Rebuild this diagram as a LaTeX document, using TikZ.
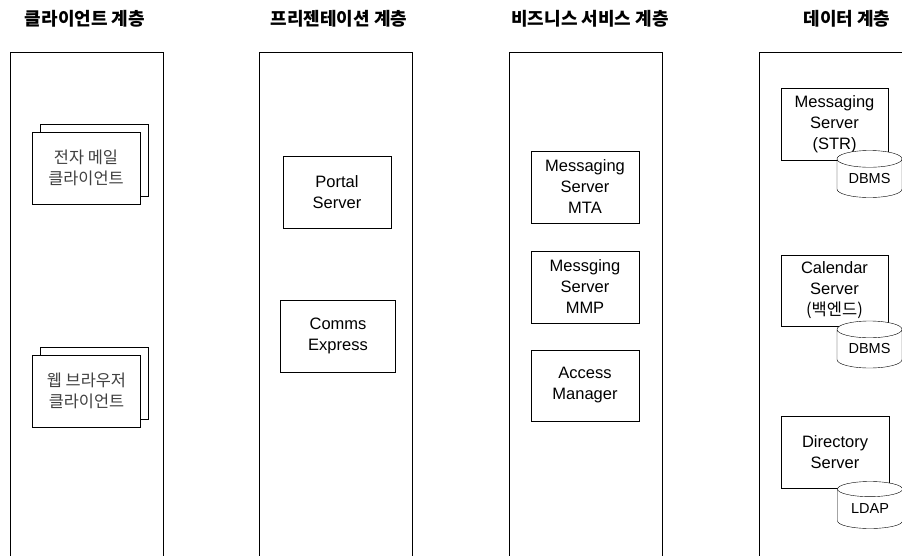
\documentclass[tikz,border=0pt]{standalone}
\usepackage{fontspec}
\setmainfont{Liberation Sans}
\newfontfamily\kr{Noto Sans CJK KR}
\usetikzlibrary{positioning,shapes.geometric,shadows}

\begin{document}
\begin{tikzpicture}[x=1pt,y=-1pt,
    layer/.style={draw, thick, minimum width=153pt, minimum height=540pt, anchor=north, inner sep=0pt},
    title/.style={font=\kr\bfseries\fontsize{18}{20}\selectfont},
    comp/.style={draw, fill=white, minimum width=108pt, minimum height=72pt, align=center, inner sep=0pt,
        font=\fontsize{16.5}{21}\selectfont},
    client/.style={comp, copy shadow={shadow xshift=8pt, shadow yshift=8pt, draw, fill=white},
        font=\kr\fontsize{16.4}{21}\selectfont, text=black!75},
    store/.style={cylinder, shape border rotate=90, draw, fill=white, aspect=0.4,
        minimum width=65pt, minimum height=47pt, inner sep=0pt, anchor=shape center,
        font=\fontsize{14.5}{17}\selectfont}]
    \useasboundingbox (0,0) rectangle (902,555);
    \clip (0,0) rectangle (902,555);

    % Draw the four layers, open at the bottom
    \node[layer] (client) at (86.5,52) {};
    \node[layer] (present) at (335.5,52) {};
    \node[layer] (business) at (585.5,52) {};
    \node[layer] (data) at (835.5,52) {};

    % Layer titles
    \node[title] (tclient) at (85,19) {클라이언트 계층};
    \node[title] (tpresent) at (339,19) {프리젠테이션 계층};
    \node[title] (tbusiness) at (590,19) {비즈니스 서비스 계층};
    \node[title] (tdata) at (847,19) {데이터 계층};

    % Client layer
    \node[client] (mail) at (86,168) {전자 메일\\클라이언트};
    \node[client] (web) at (86.5,391) {웹 브라우저\\클라이언트};

    % Presentation layer
    \node[comp] (portal) at (337,192) {Portal\\Server};
    \node[comp, minimum width=115pt] (comms) at (338,336) {Comms\\Express};

    % Business service layer
    \node[comp] (mta) at (585,187) {Messaging\\Server\\MTA};
    \node[comp] (mmp) at (585,287) {Messging\\Server\\MMP};
    \node[comp, minimum height=71pt] (am) at (585,385.5) {Access\\Manager};

    % Data layer with stores in front of the servers
    \node[comp, minimum width=107pt] (str) at (834.5,124) {Messaging\\Server\\(STR)};
    \node[store] (db1) at (869.5,174) {DBMS};
    \node[comp, minimum width=107pt, minimum height=71pt] (cal) at (834.5,290.5) {Calendar\\Server\\{\kr(백엔드)}};
    \node[store] (db2) at (869.5,344.5) {DBMS};
    \node[comp] (dir) at (835,452) {Directory\\Server};
    \node[store] (ldap) at (870,505) {LDAP};
\end{tikzpicture}
\end{document}
